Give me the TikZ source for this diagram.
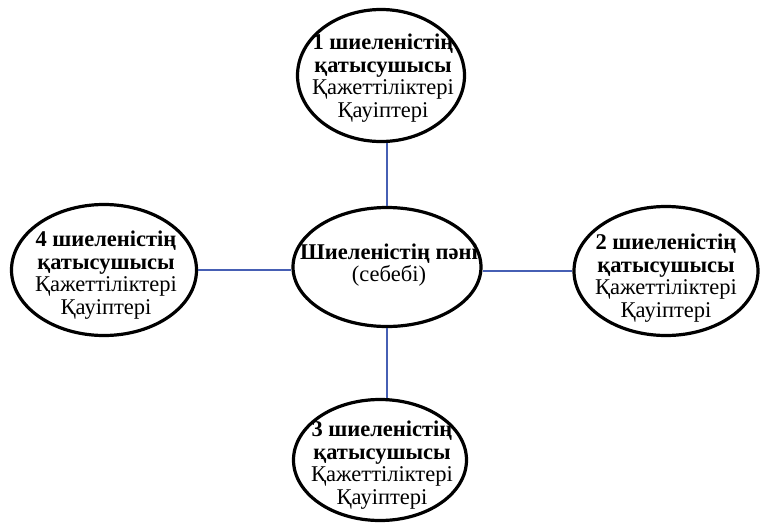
\documentclass[tikz,border=0pt]{standalone}
\usepackage{fontspec}
\setmainfont{Liberation Serif}
\usetikzlibrary{shapes.geometric}
\definecolor{linkblue}{RGB}{70,95,180}
\tikzset{
  oval/.style={ellipse, draw=black, line width=3.2pt, inner sep=0pt},
  ovaltext/.style={inner sep=0pt, align=center,
    font=\fontsize{22.5}{22.5}\selectfont},
  link/.style={draw=linkblue, line width=1.2pt}
}
\begin{document}
\begin{tikzpicture}[x=1pt,y=-1pt]
\useasboundingbox (0,0) rectangle (761,531);
\node[oval, minimum width=167pt, minimum height=132pt] (t) at (381,75.5) {};
\node[ovaltext] (tt) at (383,78)
  {\textbf{1 шиеленістің}\\\textbf{қатысушысы}\\Қажеттіліктері\\Қауіптері};
\node[oval, minimum width=185pt, minimum height=131pt] (l) at (104,270) {};
\node[ovaltext] (lt) at (106,275)
  {\textbf{4 шиеленістің}\\\textbf{қатысушысы}\\Қажеттіліктері\\Қауіптері};
\node[oval, minimum width=188pt, minimum height=119pt] (c) at (387,267) {};
\node[ovaltext] (ct) at (389,265)
  {\textbf{Шиеленістің пәні}\\(себебі)};
\node[oval, minimum width=184pt, minimum height=129pt] (r) at (666,271) {};
\node[ovaltext] (rt) at (666,278)
  {\textbf{2 шиеленістің}\\\textbf{қатысушысы}\\Қажеттіліктері\\Қауіптері};
\node[oval, minimum width=173pt, minimum height=121pt] (b) at (380,460) {};
\node[ovaltext] (bt) at (382,465)
  {\textbf{3 шиеленістің}\\\textbf{қатысушысы}\\Қажеттіліктері\\Қауіптері};
\path[link] (c.north) -- (c.north |- t.south);
\path[link] (c.south) -- (c.south |- b.north);
\path[link] (l.east) -- (l.east -| c.west);
\path[link] (r.west) -- (r.west -| c.east);
\end{tikzpicture}
\end{document}
